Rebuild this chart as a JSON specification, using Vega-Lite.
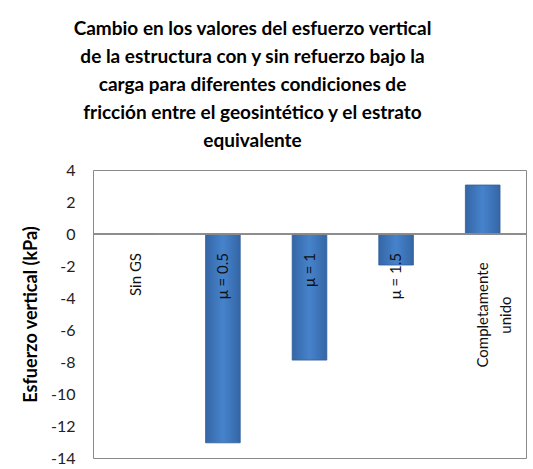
{
  "$schema": "https://vega.github.io/schema/vega-lite/v6.json",
  "width": 433,
  "height": 288,
  "autosize": "none",
  "padding": {"left": 93, "top": 170, "right": 7, "bottom": 11},
  "background": "white",
  "config": {"view": {"stroke": "#8a8a8a", "strokeWidth": 1}, "font": "Lato", "axisY": {"labelOverlap": false, "labelBound": false}},
  "title": {
    "text": ["Cambio en los valores del esfuerzo vertical", "de la estructura con y sin refuerzo bajo la", "carga para diferentes condiciones de", "fricción entre el geosintético y el estrato", "equivalente"],
    "font": "Lato",
    "fontSize": 19,
    "fontWeight": "bold",
    "color": "#000000",
    "lineHeight": 28,
    "anchor": "middle",
    "dx": -57,
    "offset": 11
  },
  "data": {
    "values": [
      {"cat": "Sin GS", "value": 0},
      {"cat": "μ = 0.5", "value": -13.05},
      {"cat": "μ = 1", "value": -7.88},
      {"cat": "μ = 1.5", "value": -1.94},
      {"cat": "Completamente unido", "value": 3.06}
    ]
  },
  "encoding": {
    "x": {
      "field": "cat",
      "type": "nominal",
      "sort": null,
      "scale": {"paddingInner": 0.6, "paddingOuter": 0.3},
      "axis": null
    },
    "y": {
      "field": "value",
      "type": "quantitative",
      "scale": {"domain": [-14, 4], "nice": false, "zero": false},
      "axis": {
        "title": "Esfuerzo vertical (kPa)",
        "titleFont": "Lato",
        "titleFontSize": 18,
        "titleFontWeight": "bold",
        "titleColor": "#000000",
        "titlePadding": 10,
        "values": [-14, -12, -10, -8, -6, -4, -2, 0, 2, 4],
        "labelExpr": "'' + datum.value",
        "labelOverlap": false,
        "labelFont": "Lato",
        "labelFontSize": 16,
        "labelColor": "#222222",
        "labelPadding": 18,
        "ticks": false,
        "grid": false,
        "domain": false
      }
    }
  },
  "layer": [
    {
      "mark": {
        "type": "bar",
        "stroke": "#2f5e9a",
        "strokeWidth": 0.8,
        "color": {
          "gradient": "linear",
          "x1": 0, "y1": 0, "x2": 1, "y2": 0,
          "stops": [
            {"offset": 0, "color": "#3566a6"},
            {"offset": 0.5, "color": "#4683cc"},
            {"offset": 1, "color": "#3566a6"}
          ]
        }
      }
    },
    {
      "mark": {"type": "rule", "color": "#8a8a8a", "strokeWidth": 1},
      "encoding": {"y": {"datum": 0, "type": "quantitative"}, "x": {"value": 0}, "x2": {"value": 433}}
    },
    {
      "transform": [{"filter": "datum.cat != 'Completamente unido'"}],
      "mark": {"type": "text", "angle": 270, "align": "right", "baseline": "middle", "dx": -19, "font": "Lato", "fontSize": 15, "color": "#111111"},
      "encoding": {"y": {"datum": 0, "type": "quantitative"}, "text": {"field": "cat"}}
    },
    {
      "transform": [{"filter": "datum.cat == 'Completamente unido'"}],
      "mark": {"type": "text", "angle": 270, "align": "center", "baseline": "middle", "dx": -81, "lineHeight": 23, "font": "Lato", "fontSize": 15, "color": "#111111"},
      "encoding": {"y": {"datum": 0, "type": "quantitative"}, "text": {"value": ["Completamente", "unido"]}}
    }
  ]
}
